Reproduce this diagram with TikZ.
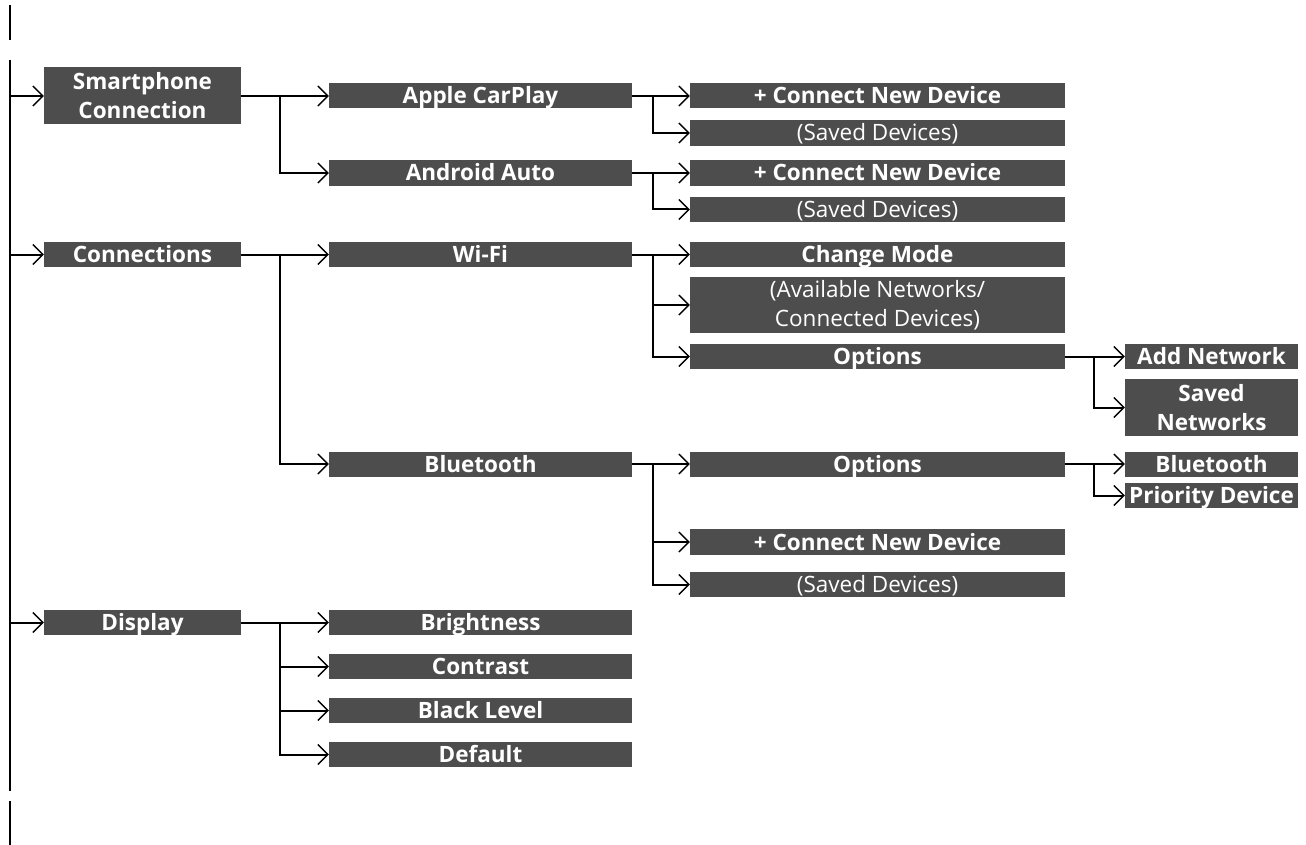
\documentclass[tikz,border=0pt]{standalone}
\usepackage{fontspec}
\setmainfont{Open Sans}
\usetikzlibrary{arrows.meta}
\definecolor{boxgray}{HTML}{4D4D4D}
\tikzset{
  x=1pt, y=-1pt,
  menubox/.style={fill=boxgray, text=white, inner sep=0pt, font=\fontsize{22.5}{29}\selectfont\bfseries, align=center},
  plain/.style={font=\fontsize{22.5}{29}\selectfont},
  one/.style={text height=18pt, text depth=2pt},
  lvA/.style={minimum width=197pt},
  lvB/.style={minimum width=303pt},
  lvC/.style={minimum width=375pt},
  lvD/.style={minimum width=173pt},
  wire/.style={line width=2pt, line cap=butt},
  arr/.style={line width=2pt, -{Straight Barb[length=10pt,width=20pt,line width=1.3pt]}},
}
\begin{document}
\begin{tikzpicture}
\useasboundingbox (0,0) rectangle (1306,845);
% root line
\coordinate (rtTop) at (10,60);
\coordinate (rtBot) at (10,791);
\draw[wire] (10,5) -- (10,40);
\draw[wire] (rtTop) -- (rtBot);
\draw[wire] (10,801) -- (10,845);
% branch x positions
\coordinate (bxA) at (280,0);
\coordinate (bxB) at (653,0);
\coordinate (bxC) at (1094,0);
% level 1
\node[menubox, lvA, minimum height=57pt] (sc) at (142.5,96) {Smartphone\\Connection};
\node[menubox, one, lvA, minimum height=25pt] (con) at (142.5,254.5) {Connections};
\node[menubox, one, lvA, minimum height=25pt] (disp) at (142.5,622.5) {Display};
% level 2
\node[menubox, one, lvB, minimum height=25pt] (carplay) at (480.5,96) {Apple CarPlay};
\node[menubox, one, lvB, minimum height=26pt] (android) at (480.5,173) {Android Auto};
\node[menubox, one, lvB, minimum height=25pt] (wifi) at (480.5,254.5) {Wi-Fi};
\node[menubox, one, lvB, minimum height=25pt] (bt) at (480.5,464) {Bluetooth};
\node[menubox, one, lvB, minimum height=25pt] (bright) at (480.5,622.5) {Brightness};
\node[menubox, one, lvB, minimum height=25pt] (contrast) at (480.5,666.5) {Contrast};
\node[menubox, one, lvB, minimum height=25pt] (black) at (480.5,710.5) {Black Level};
\node[menubox, one, lvB, minimum height=25pt] (default) at (480.5,754.5) {Default};
% level 3
\node[menubox, one, lvC, minimum height=25pt] (cpnew) at (877.5,96) {+ Connect New Device};
\node[menubox, plain, one, lvC, minimum height=26pt] (cpsaved) at (877.5,133) {(Saved Devices)};
\node[menubox, one, lvC, minimum height=26pt] (aanew) at (877.5,173) {+ Connect New Device};
\node[menubox, plain, one, lvC, minimum height=25pt] (aasaved) at (877.5,209.5) {(Saved Devices)};
\node[menubox, one, lvC, minimum height=25pt] (change) at (877.5,254.5) {Change Mode};
\node[menubox, plain, lvC, minimum height=56pt] (avail) at (877.5,305) {(Available Networks/\\Connected Devices)};
\node[menubox, one, lvC, minimum height=25pt] (wopt) at (877.5,356.5) {Options};
\node[menubox, one, lvC, minimum height=25pt] (bopt) at (877.5,464) {Options};
\node[menubox, one, lvC, minimum height=26pt] (bnew) at (877.5,542) {+ Connect New Device};
\node[menubox, plain, one, lvC, minimum height=25pt] (bsaved) at (877.5,584.5) {(Saved Devices)};
% level 4
\node[menubox, one, lvD, minimum height=25pt] (addnet) at (1211.5,356.5) {Add Network};
\node[menubox, lvD, minimum height=57pt] (savednet) at (1211.5,407.5) {Saved\\Networks};
\node[menubox, one, lvD, minimum height=25pt] (btog) at (1211.5,464) {Bluetooth};
\node[menubox, one, lvD, minimum height=25pt] (prio) at (1211.5,495.5) {Priority Device};
% root connectors
\foreach \n in {sc,con,disp}
  \draw[arr] (\n.west -| rtTop) -- (\n.west);
% level 1 -> 2
\draw[wire] (sc.east) -- (sc.east -| bxA);
\foreach \n in {carplay,android}
  \draw[arr] (sc.east -| bxA) |- (\n.west);
\draw[wire] (con.east) -- (con.east -| bxA);
\foreach \n in {wifi,bt}
  \draw[arr] (con.east -| bxA) |- (\n.west);
\draw[wire] (disp.east) -- (disp.east -| bxA);
\foreach \n in {bright,contrast,black,default}
  \draw[arr] (disp.east -| bxA) |- (\n.west);
% level 2 -> 3
\draw[wire] (carplay.east) -- (carplay.east -| bxB);
\foreach \n in {cpnew,cpsaved}
  \draw[arr] (carplay.east -| bxB) |- (\n.west);
\draw[wire] (android.east) -- (android.east -| bxB);
\foreach \n in {aanew,aasaved}
  \draw[arr] (android.east -| bxB) |- (\n.west);
\draw[wire] (wifi.east) -- (wifi.east -| bxB);
\foreach \n in {change,avail,wopt}
  \draw[arr] (wifi.east -| bxB) |- (\n.west);
\draw[wire] (bt.east) -- (bt.east -| bxB);
\foreach \n in {bopt,bnew,bsaved}
  \draw[arr] (bt.east -| bxB) |- (\n.west);
% level 3 -> 4
\draw[wire] (wopt.east) -- (wopt.east -| bxC);
\foreach \n in {addnet,savednet}
  \draw[arr] (wopt.east -| bxC) |- (\n.west);
\draw[wire] (bopt.east) -- (bopt.east -| bxC);
\foreach \n in {btog,prio}
  \draw[arr] (bopt.east -| bxC) |- (\n.west);
\end{tikzpicture}
\end{document}
